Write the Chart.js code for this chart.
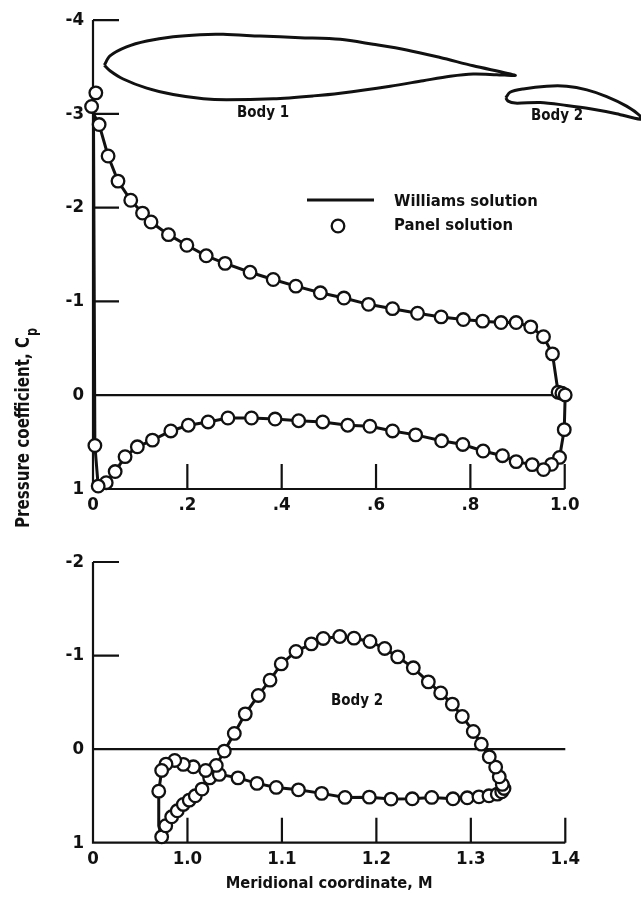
<!DOCTYPE html>
<html>
<head>
<meta charset="utf-8">
<script src="https://cdn.jsdelivr.net/npm/chart.js@4"></script>
<style>
  body { margin: 0; background: #fff; }
  canvas { position: absolute; left: 0; }
  #topChart { top: 0; }
  #bottomChart { top: 530px; }
</style>
</head>
<body>
<canvas id="topChart" width="641" height="600"></canvas>
<canvas id="bottomChart" width="641" height="368"></canvas>
<script>
const FONT = '"DejaVu Sans Condensed", "Liberation Sans", sans-serif';
const INK = '#111';

// Body 1 panel solution, going round the surface
const body1X = [0.004, 0.006, -0.003, 0.013, 0.032, 0.053, 0.080, 0.105, 0.123, 0.160, 0.199, 0.240, 0.280, 0.333, 0.382, 0.430, 0.482, 0.532, 0.584, 0.635, 0.688, 0.738, 0.785, 0.826, 0.865, 0.897, 0.928, 0.955, 0.974, 0.986, 0.994, 1.001, 0.999, 0.989, 0.972, 0.955, 0.931, 0.897, 0.868, 0.827, 0.784, 0.739, 0.684, 0.635, 0.587, 0.540, 0.487, 0.436, 0.386, 0.336, 0.286, 0.244, 0.202, 0.165, 0.126, 0.094, 0.068, 0.047, 0.028, 0.011];
const body1Cp = [0.536, -3.224, -3.079, -2.886, -2.551, -2.283, -2.079, -1.942, -1.847, -1.712, -1.599, -1.487, -1.406, -1.311, -1.234, -1.163, -1.092, -1.036, -0.969, -0.923, -0.874, -0.835, -0.807, -0.790, -0.775, -0.775, -0.729, -0.624, -0.441, -0.032, -0.021, -0.003, 0.367, 0.663, 0.737, 0.793, 0.740, 0.708, 0.645, 0.595, 0.525, 0.486, 0.423, 0.381, 0.331, 0.320, 0.285, 0.272, 0.254, 0.243, 0.243, 0.285, 0.320, 0.381, 0.479, 0.550, 0.655, 0.814, 0.933, 0.969];

// Body 2 panel solution
const body2X = [0.9727, 0.9770, 0.9833, 0.9892, 0.9956, 1.0019, 1.0083, 1.0154, 1.0235, 1.0337, 1.0535, 1.0736, 1.0940, 1.1175, 1.1421, 1.1668, 1.1925, 1.2155, 1.2380, 1.2586, 1.2811, 1.2962, 1.3086, 1.3192, 1.3280, 1.3327, 1.3351, 1.3333, 1.3301, 1.3263, 1.3195, 1.3111, 1.3026, 1.2909, 1.2804, 1.2681, 1.2550, 1.2391, 1.2226, 1.2088, 1.1932, 1.1763, 1.1612, 1.1438, 1.1311, 1.1149, 1.0993, 1.0874, 1.0750, 1.0612, 1.0496, 1.0390, 1.0305, 1.0193, 1.0062, 0.9956, 0.9865, 0.9773, 0.9727, 0.9696];
const body2Cp = [0.937, 0.819, 0.723, 0.659, 0.591, 0.545, 0.499, 0.427, 0.307, 0.270, 0.307, 0.366, 0.409, 0.435, 0.473, 0.516, 0.513, 0.534, 0.531, 0.516, 0.531, 0.520, 0.510, 0.499, 0.481, 0.456, 0.420, 0.377, 0.296, 0.192, 0.082, -0.053, -0.189, -0.349, -0.481, -0.601, -0.719, -0.869, -0.986, -1.076, -1.151, -1.186, -1.204, -1.183, -1.125, -1.044, -0.911, -0.737, -0.574, -0.377, -0.168, 0.021, 0.174, 0.228, 0.189, 0.163, 0.121, 0.160, 0.228, 0.449];

// Williams curve where it leaves the panel points near the leading edges
const williams1X = body1X.slice(3).concat(0.004, 0.001, 0.013);
const williams1Cp = body1Cp.slice(3).concat(0.536, -3.0, -2.886);
const williams2X = body2X.concat(0.9696, 0.9727);
const williams2Cp = body2Cp.concat(0.82, 0.937);

// Airfoil sketches, in the axis units of the top plot
const outline1X = [0.024, 0.036, 0.071, 0.114, 0.170, 0.227, 0.276, 0.354, 0.439, 0.524, 0.594, 0.665, 0.736, 0.806, 0.895, 0.856, 0.806, 0.757, 0.700, 0.630, 0.524, 0.467, 0.382, 0.283, 0.234, 0.170, 0.114, 0.064, 0.036, 0.024];
const outline1Y = [-3.520, -3.618, -3.714, -3.777, -3.823, -3.845, -3.848, -3.830, -3.813, -3.795, -3.742, -3.682, -3.601, -3.513, -3.411, -3.418, -3.425, -3.401, -3.354, -3.295, -3.221, -3.192, -3.161, -3.150, -3.161, -3.206, -3.274, -3.372, -3.460, -3.520];
const outline2X = [0.875, 0.884, 0.912, 0.962, 1.004, 1.047, 1.089, 1.131, 1.160, 1.160, 1.110, 1.054, 1.004, 0.948, 0.895, 0.880, 0.875];
const outline2Y = [-3.171, -3.231, -3.266, -3.295, -3.295, -3.256, -3.185, -3.083, -2.978, -2.942, -3.002, -3.055, -3.090, -3.122, -3.115, -3.136, -3.171];

const topXTicks = [0, 0.2, 0.4, 0.6, 0.8, 1.0];
const topXLabels = ['0', '.2', '.4', '.6', '.8', '1.0'];
const topYTicks = [-4, -3, -2, -1, 0, 1];
const bottomXTicks = [0.9, 1.0, 1.1, 1.2, 1.3, 1.4];
const bottomXLabels = ['0', '1.0', '1.1', '1.2', '1.3', '1.4'];
const bottomYTicks = [-2, -1, 0, 1];

function pts(xs, ys) {
  return xs.map((x, i) => ({ x: x, y: ys[i] }));
}

function curve(xs, ys, width, tension) {
  return {
    data: pts(xs, ys), showLine: true, pointRadius: 0, clip: false,
    borderColor: INK, borderWidth: width, tension: tension
  };
}

function circles(label, xs, ys) {
  return {
    label: label, data: pts(xs, ys), showLine: false, pointRadius: 6.3, clip: false,
    pointBackgroundColor: '#fff', pointBorderColor: INK, pointBorderWidth: 2.3
  };
}

// frame and inward tick marks, the frame stops at the last labelled x
const frameMarks = {
  id: 'frameMarks',
  beforeDatasetsDraw(chart, args, o) {
    const { ctx, scales: { x, y } } = chart;
    const xEnd = x.getPixelForValue(o.xTicks[o.xTicks.length - 1]);
    const y1 = y.getPixelForValue(1);
    ctx.save();
    ctx.strokeStyle = INK;
    ctx.lineWidth = 2.2;
    ctx.beginPath();
    ctx.moveTo(x.left, y.top);
    ctx.lineTo(x.left, y1);
    ctx.lineTo(xEnd, y1);
    o.yTicks.forEach(v => {
      if (v === 1) return;
      const p = y.getPixelForValue(v);
      ctx.moveTo(x.left, p);
      ctx.lineTo(v === 0 ? xEnd : x.left + 26, p);
    });
    o.xTicks.slice(1).forEach(v => {
      const p = x.getPixelForValue(v);
      ctx.moveTo(p, y1);
      ctx.lineTo(p, y1 - 25);
    });
    ctx.stroke();
    ctx.restore();
  }
};

// free text and the hand made key
const notes = {
  id: 'notes',
  afterDatasetsDraw(chart, args, o) {
    const ctx = chart.ctx;
    ctx.save();
    ctx.fillStyle = INK;
    ctx.textBaseline = 'middle';
    (o.texts || []).forEach(t => {
      ctx.font = 'bold ' + t.size + 'px ' + FONT;
      ctx.textAlign = 'center';
      ctx.fillText(t.text, t.x, t.y);
    });
    if (o.key) {
      ctx.strokeStyle = INK;
      ctx.lineWidth = 3;
      ctx.beginPath();
      ctx.moveTo(307, 200);
      ctx.lineTo(374, 200);
      ctx.stroke();
      ctx.lineWidth = 2.3;
      ctx.beginPath();
      ctx.arc(338, 226, 6.3, 0, Math.PI * 2);
      ctx.stroke();
      ctx.font = 'bold 16.5px ' + FONT;
      ctx.textAlign = 'left';
      ctx.fillText('Williams solution', 394, 202);
      ctx.fillText('Panel solution', 394, 226);
    }
    if (o.yTitle) {
      // the scan is squeezed along the y label, so fit it to its measured length
      ctx.translate(29, 528);
      ctx.rotate(-Math.PI / 2);
      ctx.textBaseline = 'alphabetic';
      ctx.textAlign = 'left';
      ctx.font = 'bold 20px ' + FONT;
      const label = 'Pressure coefficient, C';
      const w = ctx.measureText(label).width;
      const squeeze = 191 / w;
      ctx.save();
      ctx.scale(squeeze, 1);
      ctx.fillText(label, 0, 0);
      ctx.restore();
      ctx.font = 'bold 15px ' + FONT;
      ctx.save();
      ctx.scale(squeeze, 1);
      ctx.fillText('p', (191 + 1) / squeeze, 8);
      ctx.restore();
    }
    ctx.restore();
  }
};

function makeChart(id, cfg) {
  return new Chart(document.getElementById(id), {
    type: 'scatter',
    data: { datasets: cfg.datasets },
    plugins: [frameMarks, notes],
    options: {
      responsive: false,
      animation: false,
      layout: { autoPadding: false, padding: { top: cfg.top, right: cfg.right, left: 0, bottom: 0 } },
      plugins: {
        legend: { display: false },
        tooltip: { enabled: false },
        frameMarks: { xTicks: cfg.xTicks, yTicks: cfg.yTicks },
        notes: cfg.notes
      },
      scales: {
        x: {
          type: 'linear', min: cfg.xMin, max: cfg.xMax,
          grid: { display: false, drawTicks: false }, border: { display: false },
          title: cfg.xTitle,
          afterBuildTicks: a => { a.ticks = cfg.xTicks.map(v => ({ value: v })); },
          afterFit: a => { a.height = cfg.xHeight; },
          ticks: {
            autoSkip: false, maxRotation: 0, padding: 5, color: INK,
            font: { family: FONT, size: 18.5, weight: 'bold' },
            callback: v => cfg.xLabels[cfg.xTicks.findIndex(t => Math.abs(t - v) < 1e-6)]
          }
        },
        y: {
          type: 'linear', reverse: true, min: cfg.yTicks[0], max: 1,
          grid: { display: false, drawTicks: false }, border: { display: false },
          afterBuildTicks: a => { a.ticks = cfg.yTicks.map(v => ({ value: v })); },
          afterFit: a => { a.width = 93; },
          ticks: {
            padding: 9, color: INK,
            font: { family: FONT, size: 18.5, weight: 'bold' },
            callback: v => String(v)
          }
        }
      }
    }
  });
}

makeChart('topChart', {
  top: 16, right: 0, xHeight: 111, xMin: 0, xMax: 1.1617,
  xTicks: topXTicks, xLabels: topXLabels, yTicks: topYTicks,
  xTitle: { display: false },
  notes: {
    yTitle: true, key: true,
    texts: [
      { text: 'Body 1', x: 263, y: 113, size: 15 },
      { text: 'Body 2', x: 557, y: 116, size: 15 }
    ]
  },
  datasets: [
    circles('Panel solution', body1X, body1Cp),
    curve(williams1X, williams1Cp, 3, 0),
    curve(outline1X, outline1Y, 3, 0.3),
    curve(outline2X, outline2Y, 3, 0.3)
  ]
});

makeChart('bottomChart', {
  top: 32, right: 75.7, xHeight: 55.3, xMin: 0.9, xMax: 1.4,
  xTicks: bottomXTicks, xLabels: bottomXLabels, yTicks: bottomYTicks,
  xTitle: {
    display: true, text: 'Meridional coordinate, M', color: INK,
    font: { family: FONT, size: 16.3, weight: 'bold' }, padding: { top: 0, bottom: 4 }
  },
  notes: { texts: [{ text: 'Body 2', x: 357, y: 171, size: 15 }] },
  datasets: [
    circles('Panel solution', body2X, body2Cp),
    curve(williams2X, williams2Cp, 3, 0)
  ]
});
</script>
</body>
</html>
